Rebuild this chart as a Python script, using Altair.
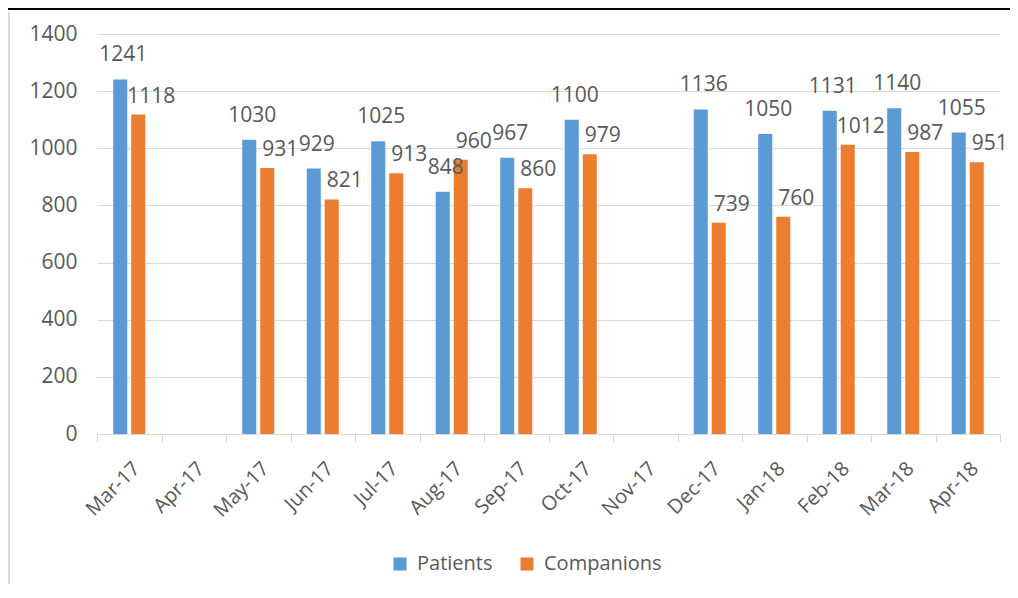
import altair as alt
import pandas as pd

months = ["Mar-17", "Apr-17", "May-17", "Jun-17", "Jul-17", "Aug-17", "Sep-17",
          "Oct-17", "Nov-17", "Dec-17", "Jan-18", "Feb-18", "Mar-18", "Apr-18"]
patients = [1241, None, 1030, 929, 1025, 848, 967, 1100, None, 1136, 1050, 1131, 1140, 1055]
companions = [1118, None, 931, 821, 913, 960, 860, 979, None, 739, 760, 1012, 987, 951]
series = ["Patients", "Companions"]
colors = ["#5B9BD5", "#ED7D31"]
y_ticks = [0, 200, 400, 600, 800, 1000, 1200, 1400]

rows = []
for m, p, c in zip(months, patients, companions):
    if p is not None:
        rows.append({"month": m, "series": "Patients", "value": p})
    if c is not None:
        rows.append({"month": m, "series": "Companions", "value": c})
df = pd.DataFrame(rows)

FONT = "Open Sans"
TXT = "#595959"
FS = 21

x_enc = alt.X("month:N", sort=months,
              scale=alt.Scale(domain=months, paddingInner=0, paddingOuter=0),
              axis=alt.Axis(title=None, labelAngle=-45, labelFontSize=FS - 1, labelColor=TXT,
                            labelFont=FONT, labelPadding=16, tickBand="extent",
                            tickColor="#D9D9D9", tickSize=8, domainColor="#D9D9D9",
                            labelAlign="right", labelBaseline="top", grid=False))
xo_enc = alt.XOffset("series:N", sort=series,
                     scale=alt.Scale(domain=series, paddingInner=0.22, paddingOuter=0.9))
y_enc = alt.Y("value:Q", scale=alt.Scale(domain=[0, 1400], nice=False),
              axis=alt.Axis(title=None, values=y_ticks, format="d", labelFontSize=FS,
                            labelColor=TXT, labelFont=FONT, labelPadding=20, domain=False,
                            ticks=False, gridColor="#D9D9D9", gridWidth=1))

base = alt.Chart(df)

bars = base.mark_bar().encode(
    x=x_enc, xOffset=xo_enc, y=y_enc,
    color=alt.Color("series:N", sort=series,
                    scale=alt.Scale(domain=series, range=colors),
                    legend=alt.Legend(title=None, orient="none", direction="horizontal",
                                      legendX=293, legendY=520, symbolType="square",
                                      symbolSize=170, symbolStrokeWidth=0,
                                      labelFontSize=FS - 1, labelColor=TXT, labelFont=FONT,
                                      labelOffset=7, columnPadding=24))
)

lab_p = base.transform_filter(alt.datum.series == "Patients").mark_text(
    font=FONT, fontSize=FS, color=TXT, dy=-24, dx=3, baseline="middle"
).encode(x=alt.X("month:N", sort=months), xOffset=alt.XOffset("series:N", sort=series),
         y="value:Q", text="value:Q")

lab_c = base.transform_filter(alt.datum.series == "Companions").mark_text(
    font=FONT, fontSize=FS, color=TXT, dy=-18, dx=13, baseline="middle"
).encode(x=alt.X("month:N", sort=months), xOffset=alt.XOffset("series:N", sort=series),
         y="value:Q", text="value:Q")

frame_top = alt.Chart(pd.DataFrame({"a": [0]})).mark_rule(color="black", strokeWidth=2).encode(
    x=alt.value(-89), x2=alt.value(921), y=alt.value(-25))
frame_left = alt.Chart(pd.DataFrame({"a": [0]})).mark_rule(color="#D9D9D9", strokeWidth=2).encode(
    x=alt.value(-88), y=alt.value(-22), y2=alt.value(560))

chart = alt.layer(bars, lab_p, lab_c, frame_top, frame_left).properties(
    width=903, height=400,
    autosize=alt.AutoSizeParams(type="none"),
    padding={"left": 89, "top": 26, "right": 10, "bottom": 150},
).configure(font=FONT).configure_view(strokeWidth=0, stroke="transparent")

chart.save("out.html", embed_options={"renderer": "svg", "actions": False})
